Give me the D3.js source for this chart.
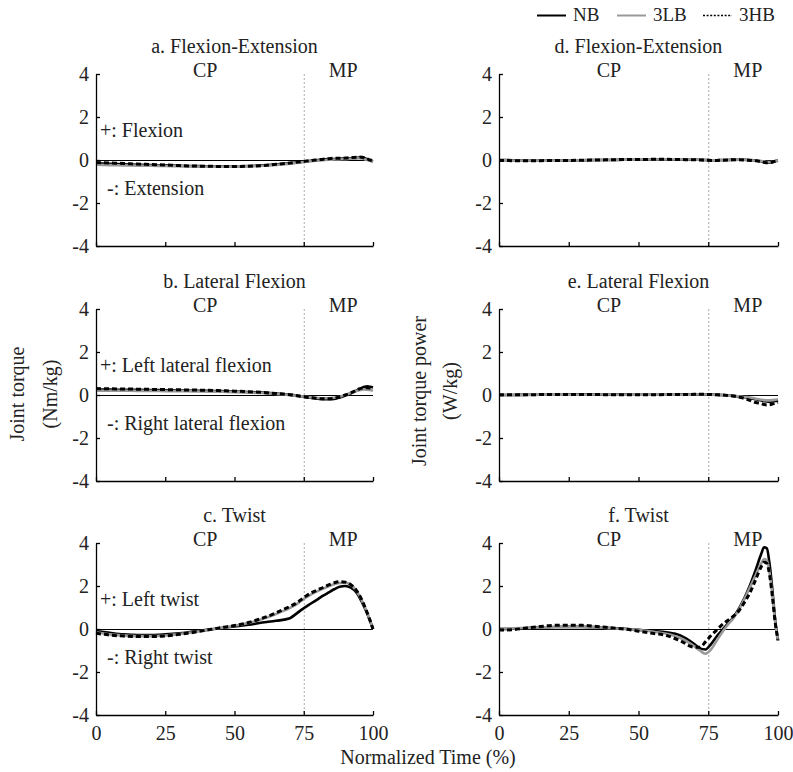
<!DOCTYPE html>
<html>
<head>
<meta charset="utf-8">
<script src="https://cdn.jsdelivr.net/npm/d3@7"></script>
<style>
  body { margin: 0; background: #fff; }
  svg text { font-family: 'Liberation Serif', 'Times New Roman', serif; }
  .axis text { font-size: 20px; fill: #222; }
  .axis path, .axis line { stroke: #000; stroke-width: 1.3; }
</style>
</head>
<body>
<svg width="793" height="772"></svg>
<script>
// normalized time (%)
const time = [0,5,10,15,20,25,30,35,40,45,50,55,60,65,70,72,74,76,78,80,82,84,86,88,90,92,94,95,96,97,98,99,100]

const conditions = ["NB", "3LB", "3HB"]
const panelTitles = ["a. Flexion-Extension", "b. Lateral Flexion", "c. Twist",
                     "d. Flexion-Extension", "e. Lateral Flexion", "f. Twist"]
const plusNotes = ["+: Flexion", "+: Left lateral flexion", "+: Left twist"]
const minusNotes = ["-: Extension", "-: Right lateral flexion", "-: Right twist"]
const yTicks = [-4, -2, 0, 2, 4]
const xTicks = [0, 25, 50, 75, 100]

// joint torque (Nm/kg)
const torqueFlexNB  = [-0.15,-0.18,-0.2,-0.22,-0.24,-0.25,-0.27,-0.28,-0.29,-0.29,-0.29,-0.28,-0.25,-0.2,-0.15,-0.12,-0.09,-0.06,-0.03,0,0.02,0.04,0.05,0.06,0.07,0.08,0.1,0.11,0.1,0.08,0.03,-0.02,-0.06]
const torqueFlex3LB = [-0.22,-0.24,-0.25,-0.26,-0.27,-0.28,-0.29,-0.3,-0.31,-0.31,-0.3,-0.29,-0.27,-0.23,-0.17,-0.14,-0.11,-0.08,-0.05,-0.03,-0.01,0.01,0.02,0.03,0.04,0.06,0.07,0.08,0.07,0.04,0,-0.04,-0.08]
const torqueFlex3HB = [-0.12,-0.14,-0.16,-0.19,-0.21,-0.23,-0.26,-0.28,-0.29,-0.3,-0.3,-0.29,-0.26,-0.2,-0.14,-0.11,-0.08,-0.05,-0.02,0.01,0.04,0.06,0.08,0.08,0.09,0.11,0.13,0.14,0.13,0.1,0.05,0,-0.04]

const torqueLatNB  = [0.25,0.25,0.24,0.24,0.23,0.22,0.21,0.2,0.19,0.18,0.16,0.14,0.11,0.07,0.01,-0.02,-0.06,-0.1,-0.14,-0.17,-0.19,-0.2,-0.18,-0.12,-0.03,0.08,0.2,0.27,0.33,0.38,0.4,0.38,0.35]
const torqueLat3LB = [0.2,0.2,0.2,0.19,0.19,0.18,0.18,0.17,0.16,0.15,0.13,0.11,0.09,0.05,0,-0.03,-0.06,-0.09,-0.12,-0.14,-0.15,-0.15,-0.13,-0.08,0,0.1,0.18,0.22,0.25,0.26,0.25,0.23,0.2]
const torqueLat3HB = [0.3,0.29,0.28,0.27,0.26,0.25,0.24,0.23,0.22,0.2,0.18,0.15,0.12,0.07,0.01,-0.02,-0.06,-0.1,-0.13,-0.16,-0.18,-0.18,-0.15,-0.09,0,0.1,0.22,0.28,0.32,0.34,0.34,0.32,0.3]

const torqueTwistNB  = [-0.1,-0.18,-0.25,-0.28,-0.28,-0.25,-0.2,-0.12,-0.04,0.04,0.12,0.2,0.3,0.38,0.5,0.68,0.88,1.05,1.22,1.38,1.55,1.7,1.85,1.97,2.0,1.92,1.7,1.5,1.25,0.98,0.68,0.35,0.0]
const torqueTwist3LB = [-0.15,-0.25,-0.3,-0.33,-0.33,-0.3,-0.24,-0.15,-0.05,0.05,0.15,0.28,0.46,0.7,0.98,1.12,1.3,1.48,1.63,1.76,1.88,1.99,2.08,2.14,2.15,2.05,1.78,1.57,1.32,1.03,0.72,0.37,0.0]
const torqueTwist3HB = [-0.2,-0.28,-0.33,-0.35,-0.35,-0.32,-0.25,-0.16,-0.05,0.06,0.16,0.3,0.5,0.75,1.05,1.18,1.36,1.55,1.7,1.82,1.93,2.05,2.15,2.2,2.18,2.06,1.8,1.6,1.35,1.05,0.73,0.38,0.0]

// joint torque power (W/kg)
const powerFlexNB  = [0,-0.01,-0.02,-0.02,-0.02,-0.02,-0.01,0,0,0.01,0.01,0.02,0.02,0.03,0.02,0.01,0,-0.01,-0.01,0,0,0.01,0.01,0.01,0,-0.02,-0.06,-0.09,-0.12,-0.12,-0.1,-0.06,-0.03]
const powerFlex3LB = [-0.01,-0.02,-0.02,-0.03,-0.03,-0.02,-0.01,0,0.01,0.01,0.02,0.02,0.03,0.03,0.02,0.01,0,-0.01,-0.01,-0.01,0,0,0.01,0,-0.01,-0.03,-0.05,-0.07,-0.09,-0.1,-0.08,-0.05,-0.02]
const powerFlex3HB = [-0.02,-0.03,-0.03,-0.03,-0.02,-0.02,-0.01,0,0.01,0.02,0.02,0.03,0.03,0.02,0.01,0,-0.01,-0.02,-0.02,-0.01,0,0.01,0.01,0,-0.02,-0.04,-0.08,-0.11,-0.13,-0.12,-0.09,-0.05,-0.02]

const powerLatNB  = [0,0,0.01,0.01,0.01,0.02,0.02,0.02,0.02,0.02,0.01,0.01,0.01,0.02,0.02,0.02,0.02,0.02,0.01,0,-0.02,-0.04,-0.07,-0.1,-0.15,-0.2,-0.26,-0.28,-0.3,-0.31,-0.3,-0.28,-0.25]
const powerLat3LB = [0,0,0,0.01,0.01,0.01,0.01,0.02,0.02,0.01,0.01,0.01,0.01,0.01,0.02,0.02,0.02,0.01,0,-0.01,-0.02,-0.04,-0.06,-0.09,-0.12,-0.17,-0.22,-0.24,-0.25,-0.25,-0.24,-0.22,-0.2]
const powerLat3HB = [0.01,0.01,0.01,0.02,0.02,0.02,0.02,0.02,0.01,0.01,0.01,0.01,0.02,0.02,0.03,0.03,0.03,0.02,0.01,0,-0.02,-0.05,-0.1,-0.16,-0.25,-0.35,-0.4,-0.44,-0.46,-0.45,-0.42,-0.38,-0.35]

const powerTwistNB  = [0,0.01,0.04,0.07,0.09,0.1,0.1,0.08,0.05,0.01,-0.04,-0.09,-0.15,-0.3,-0.7,-0.9,-0.95,-0.7,-0.35,-0.05,0.25,0.55,0.95,1.45,2.05,2.75,3.5,3.8,3.75,3.0,1.8,0.4,-0.55]
const powerTwist3LB = [0.02,0.03,0.05,0.07,0.09,0.1,0.1,0.08,0.04,0,-0.05,-0.12,-0.22,-0.42,-0.8,-1.0,-1.15,-0.95,-0.55,-0.15,0.2,0.5,0.9,1.4,1.95,2.5,3.05,3.25,3.2,2.6,1.6,0.35,-0.55]
const powerTwist3HB = [-0.05,-0.03,0.05,0.12,0.17,0.18,0.17,0.12,0.06,0,-0.1,-0.2,-0.3,-0.55,-0.85,-0.85,-0.6,-0.3,-0.05,0.2,0.4,0.6,0.85,1.25,1.7,2.3,2.9,3.1,3.05,2.5,1.5,0.3,-0.5]

const panelSeries = [
  [torqueFlexNB, torqueFlex3LB, torqueFlex3HB],
  [torqueLatNB, torqueLat3LB, torqueLat3HB],
  [torqueTwistNB, torqueTwist3LB, torqueTwist3HB],
  [powerFlexNB, powerFlex3LB, powerFlex3HB],
  [powerLatNB, powerLat3LB, powerLat3HB],
  [powerTwistNB, powerTwist3LB, powerTwist3HB]
]

const styles = {
  "NB":  { stroke: "#000", width: 2.6, dash: null },
  "3LB": { stroke: "#999", width: 2.6, dash: null },
  "3HB": { stroke: "#000", width: 3, dash: "5,3" }
}

const fs = '20px'
const svg = d3.select("svg")
const colX = [[96, 373], [499, 778]]
const rowTop = [74, 309, 543]
const panelH = 172

panelTitles.forEach((title, p) => {
  const col = Math.floor(p / 3), row = p % 3
  const x = d3.scaleLinear().domain([0, 100]).range(colX[col])
  const y = d3.scaleLinear().domain([-4, 4]).range([rowTop[row] + panelH, rowTop[row]])
  const g = svg.append('g')

  // phase divider at 75%
  g.append('line')
    .attr('x1', x(75) + 0.5).attr('x2', x(75) + 0.5)
    .attr('y1', y(4)).attr('y2', y(-4))
    .attr('stroke', '#aaa')
    .attr('stroke-width', 1)
    .attr('stroke-dasharray', '2,2')

  // zero line
  g.append('line')
    .attr('x1', x(0)).attr('x2', x(100))
    .attr('y1', y(0) + 0.5).attr('y2', y(0) + 0.5)
    .attr('stroke', '#000')
    .attr('stroke-width', 1.3)
    .attr('shape-rendering', 'crispEdges')

  const line = d3.line()
    .x((d, i) => x(time[i]))
    .y(d => y(d))
    .curve(d3.curveMonotoneX)

  panelSeries[p].forEach((vals, k) => {
    const s = styles[conditions[k]]
    g.append('path')
      .attr('d', line(vals))
      .attr('fill', 'none')
      .attr('stroke', s.stroke)
      .attr('stroke-width', s.width)
      .attr('stroke-dasharray', s.dash)
  })

  g.append('g')
    .attr('class', 'axis')
    .attr('transform', `translate(${x(0)},0)`)
    .call(d3.axisLeft(y).tickValues(yTicks).tickSizeInner(-4).tickSizeOuter(0)
      .tickPadding(7).tickFormat(d => String(d)))

  g.append('g')
    .attr('class', 'axis')
    .attr('transform', `translate(0,${y(-4)})`)
    .call(d3.axisBottom(x).tickValues(xTicks).tickSizeInner(-4).tickSizeOuter(0)
      .tickPadding(11).tickFormat(row == 2 ? (d => String(d)) : ""))

  g.append('text')
    .attr('x', (x(0) + x(100)) / 2)
    .attr('y', rowTop[row] - 21)
    .attr('text-anchor', 'middle')
    .attr('font-size', fs)
    .attr('fill', '#222')
    .text(title)

  g.append('text')
    .attr('x', x(35)).attr('y', rowTop[row] + 3)
    .attr('font-size', fs).attr('fill', '#222')
    .text('CP')
  g.append('text')
    .attr('x', x(84)).attr('y', rowTop[row] + 3)
    .attr('font-size', fs).attr('fill', '#222')
    .text('MP')

  if (col == 0) {
    g.append('text')
      .attr('x', x(0) + 4).attr('y', y(1.05))
      .attr('font-size', fs).attr('fill', '#222')
      .text(plusNotes[row])
    g.append('text')
      .attr('x', x(0) + 11).attr('y', y(-1.65))
      .attr('font-size', fs).attr('fill', '#222')
      .text(minusNotes[row])
  }
})

// y axis labels
function yLabel(lines, xs, cy) {
  lines.forEach((t, i) => {
    svg.append('text')
      .attr('transform', `translate(${xs[i]},${cy}) rotate(-90)`)
      .attr('text-anchor', 'middle')
      .attr('font-size', fs)
      .attr('fill', '#222')
      .text(t)
  })
}
yLabel(["Joint torque", "(Nm/kg)"], [24, 57], 394)
yLabel(["Joint torque power", "(W/kg)"], [426, 457], 391)

svg.append('text')
  .attr('x', 428).attr('y', 764)
  .attr('text-anchor', 'middle')
  .attr('font-size', fs)
  .attr('fill', '#222')
  .text('Normalized Time (%)')

// legend
const legendX = [537, 617, 703]
const legendG = svg.append('g')
conditions.forEach((c, i) => {
  const s = styles[c]
  legendG.append('line')
    .attr('x1', legendX[i]).attr('x2', legendX[i] + 29)
    .attr('y1', 15.5).attr('y2', 15.5)
    .attr('stroke', s.stroke)
    .attr('stroke-width', c == "3HB" ? 1.4 : 2)
    .attr('stroke-dasharray', c == "3HB" ? "2,1.6" : null)
  legendG.append('text')
    .attr('x', legendX[i] + 36).attr('y', 21)
    .attr('font-size', '19px')
    .attr('fill', '#222')
    .text(c)
})
</script>
</body>
</html>
